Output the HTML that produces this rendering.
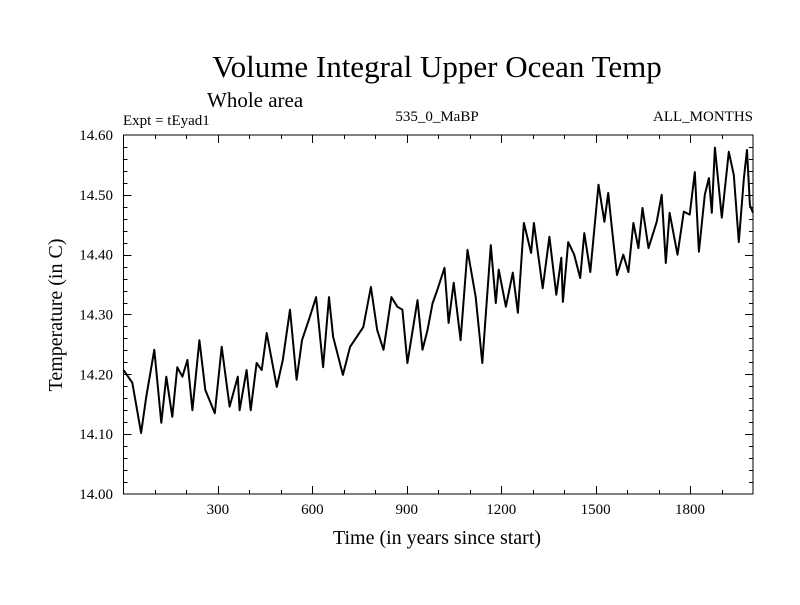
<!DOCTYPE html>
<html><head><meta charset="utf-8"><style>
body{margin:0;background:#fff}
svg text{font-family:"Liberation Serif",serif;fill:#000}
</style></head><body>
<svg id="chart" width="800" height="600" xmlns="http://www.w3.org/2000/svg">
<rect width="800" height="600" fill="#fff"/>
<text x="437" y="77" font-size="31" text-anchor="middle">Volume Integral Upper Ocean Temp</text>
<text x="207" y="107" font-size="21">Whole area</text>
<text x="123" y="125" font-size="15">Expt = tEyad1</text>
<text x="437" y="121" font-size="15" text-anchor="middle">535_0_MaBP</text>
<text x="753" y="121" font-size="15" text-anchor="end">ALL_MONTHS</text>
<text x="437" y="544" font-size="20" text-anchor="middle">Time (in years since start)</text>
<text transform="translate(62,315) rotate(-90)" font-size="20" text-anchor="middle">Temperature (in C)</text>
<g id="axes"></g>
<path id="series" fill="none" stroke="#000" stroke-width="2" stroke-linejoin="round"/>
<rect x="123.5" y="135" width="629.5" height="359" fill="none" stroke="#000" stroke-width="1"/>
</svg>
<script>
const years=[0,28,56,72,98,120,136,155,171,187,203,219,241,260,290,312,337,363,369,391,404,423,439,455,487,506,529,550,567,592,612,634,653,666,697,720,762,786,806,826,851,870,886,902,934,950,966,982,997,1020,1033,1049,1071,1093,1119,1140,1167,1183,1192,1215,1237,1253,1272,1295,1304,1332,1353,1375,1391,1396,1413,1432,1451,1464,1483,1509,1528,1540,1553,1568,1588,1604,1620,1636,1649,1668,1694,1710,1723,1735,1760,1780,1799,1815,1828,1847,1860,1869,1879,1901,1923,1939,1955,1971,1981,1990,2000];
const temps=[14.207,14.186,14.102,14.162,14.241,14.119,14.196,14.129,14.212,14.196,14.224,14.140,14.257,14.174,14.135,14.246,14.146,14.196,14.140,14.207,14.140,14.219,14.207,14.269,14.179,14.224,14.308,14.191,14.257,14.296,14.329,14.212,14.329,14.263,14.199,14.246,14.279,14.346,14.274,14.241,14.329,14.313,14.308,14.219,14.324,14.241,14.274,14.319,14.341,14.378,14.286,14.353,14.257,14.408,14.329,14.219,14.416,14.319,14.375,14.313,14.370,14.303,14.453,14.403,14.453,14.344,14.430,14.333,14.395,14.321,14.421,14.400,14.361,14.436,14.371,14.517,14.455,14.503,14.438,14.366,14.400,14.371,14.453,14.411,14.478,14.411,14.455,14.500,14.386,14.470,14.400,14.472,14.467,14.538,14.405,14.500,14.528,14.470,14.579,14.462,14.572,14.533,14.421,14.528,14.575,14.483,14.470];
const yTickLabels=["14.00","14.10","14.20","14.30","14.40","14.50","14.60"];
const xTickLabels=["300","600","900","1200","1500","1800"];
const X0=123.5,X1=753,Y0=494,Y1=135,XMIN=0,XMAX=2000,YMIN=14.0,YMAX=14.6;
function sx(v){return X0+(v-XMIN)/(XMAX-XMIN)*(X1-X0);}
function sy(v){return Y0-(v-YMIN)/(YMAX-YMIN)*(Y0-Y1);}
const NS="http://www.w3.org/2000/svg";
const axes=document.getElementById('axes');
function line(x1,y1,x2,y2){const l=document.createElementNS(NS,'line');l.setAttribute('x1',x1);l.setAttribute('y1',y1);l.setAttribute('x2',x2);l.setAttribute('y2',y2);l.setAttribute('stroke','#000');l.setAttribute('stroke-width','1');


axes.appendChild(l);}
for(let v=100;v<2000;v+=100){const x=Math.round(sx(v))+0.5;const len=(v%300===0)?8:4;line(x,Y0,x,Y0-len);line(x,Y1,x,Y1+len);}
for(let i=1;i<30;i++){const v=14+i*0.02;const y=Math.round(sy(v))+0.5;const len=(i%5===0)?8:4;line(X0,y,X0+len,y);line(X1,y,X1-len,y);}
yTickLabels.forEach(s=>{const t=document.createElementNS(NS,'text');t.setAttribute('x',113);t.setAttribute('y',sy(parseFloat(s))+5);t.setAttribute('font-size','15');t.setAttribute('text-anchor','end');t.textContent=s;


axes.appendChild(t);});
xTickLabels.forEach(s=>{const t=document.createElementNS(NS,'text');t.setAttribute('x',sx(parseFloat(s)));t.setAttribute('y',514);t.setAttribute('font-size','15');t.setAttribute('text-anchor','middle');t.textContent=s;


axes.appendChild(t);});
document.getElementById('series').setAttribute('d',years.map((y,i)=>(i?'L':'M')+sx(y).toFixed(1)+' '+sy(temps[i]).toFixed(1)).join(' '));
</script>
</body></html>
